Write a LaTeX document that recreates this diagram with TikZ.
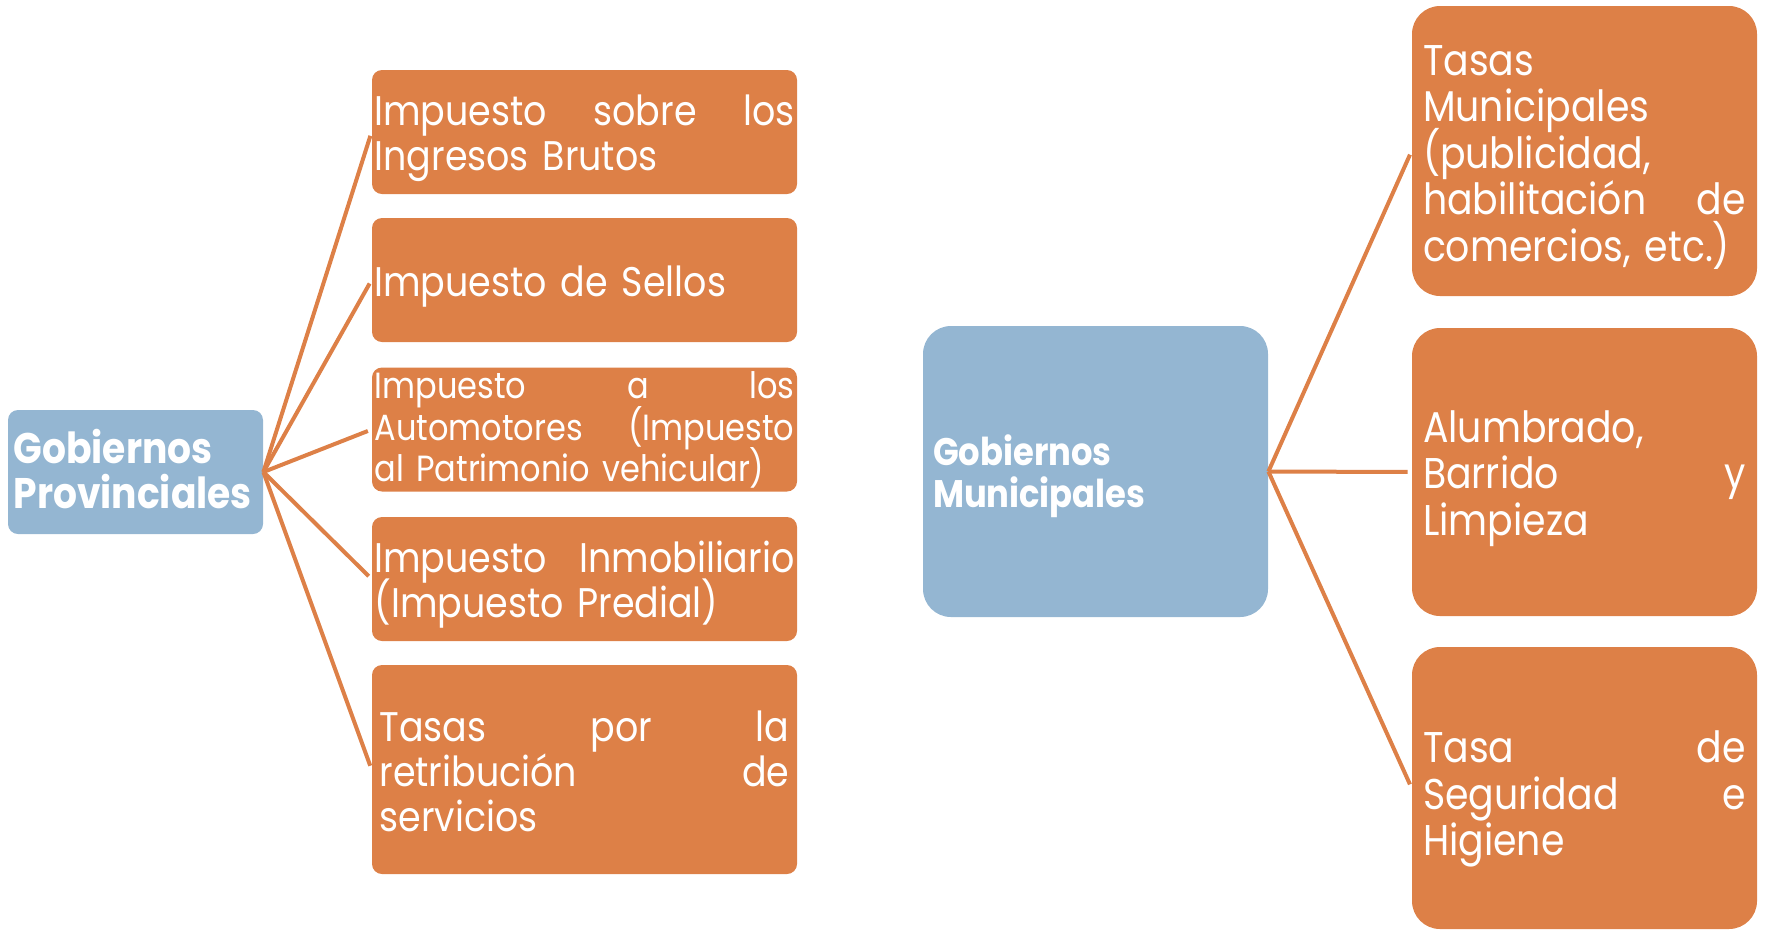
\documentclass[tikz,border=0pt]{standalone}
\usepackage{fontspec}
\setmainfont{Poppins}[FakeStretch=0.88]
\definecolor{naranja}{HTML}{DD8047}
\definecolor{azul}{HTML}{94B6D2}
\hyphenpenalty=10000
\exhyphenpenalty=10000

\begin{document}
\begin{tikzpicture}[x=0.5pt,y=-0.5pt,
    tope/.style 2 args={execute at begin node={\lineskiplimit=-20pt\lineskip=0pt\rule{0pt}{#1}},execute at end node={\rule[-#2]{0pt}{0pt}}},
    caja/.style={rectangle,rounded corners=5pt,fill=naranja,text=white,inner ysep=0pt,align=left},
    izq/.style={caja,tope={#1}{0.25em},minimum width=212.5pt,minimum height=62pt,text width=210pt,inner xsep=1.25pt,font=\fontsize{20.7}{22.5}\selectfont},
    izq/.default=1.05em,
    der/.style={caja,tope={#1}{0.25em},rounded corners=14pt,minimum width=172.5pt,minimum height=144pt,text width=161.5pt,inner xsep=5.5pt,font=\fontsize{21.5}{23.3}\selectfont},
    der/.default=1.05em,
    gob/.style={caja,fill=azul},
    rama/.style={draw=naranja,line width=2pt,shorten >=2pt}]

    \useasboundingbox (0,0) rectangle (1766,933);

    \node[gob,tope={0.7em}{0.16em},minimum width=127.5pt,minimum height=62pt,text width=122pt,inner xsep=2.75pt,font=\bfseries\fontsize{21.4}{22.5}\selectfont] (prov) at (135.5,472) {Gobiernos\\Provinciales};

    \node[izq] (izq1) at (584.5,132) {Impuesto\hfill sobre\hfill los\\Ingresos Brutos};
    \node[izq] (izq2) at (584.5,280) {Impuesto de Sellos};
    \node[izq=0.83em,font=\fontsize{18.2}{20.8}\selectfont] (izq3) at (584.5,429.5) {Impuesto\hfill a\hfill los\\Automotores\hfill (Impuesto\\al Patrimonio vehicular)};
    \node[izq] (izq4) at (584.5,579) {Impuesto\hfill Inmobiliario\\(Impuesto Predial)};
    \node[izq,minimum height=104.5pt,text width=205pt,inner xsep=3.75pt] (izq5) at (584.5,769.5) {Tasas\hfill por\hfill la\\retribución\hfill de\\servicios};

    \node[gob,tope={1.05em}{0.25em},rounded corners=14pt,minimum width=172.5pt,minimum height=145.5pt,text width=162.5pt,inner xsep=5pt,font=\bfseries\fontsize{19.2}{21}\selectfont] (mun) at (1095.5,471.5) {Gobiernos\\Municipales};

    \node[der,minimum height=145pt] (der1) at (1584.5,151) {Tasas\\Municipales\\(publicidad,\\habilitación\hfill de\\comercios, etc.)};
    \node[der] (der2) at (1584.5,472) {Alumbrado,\\Barrido\hfill y\\Limpieza};
    \node[der=1.25em,minimum height=141pt] (der3) at (1584.5,788) {Tasa\hfill de\\Seguridad\hfill e\\Higiene};

    \draw[rama] (prov.east) -- (izq1.west);
    \draw[rama] (prov.east) -- (izq2.west);
    \draw[rama] (prov.east) -- (izq3.west);
    \draw[rama] (prov.east) -- (izq4.west);
    \draw[rama] (prov.east) -- (izq5.west);
    \draw[rama] (mun.east) -- (der1.west);
    \draw[rama] (mun.east) -- (der2.west);
    \draw[rama] (mun.east) -- (der3.west);
\end{tikzpicture}
\end{document}
